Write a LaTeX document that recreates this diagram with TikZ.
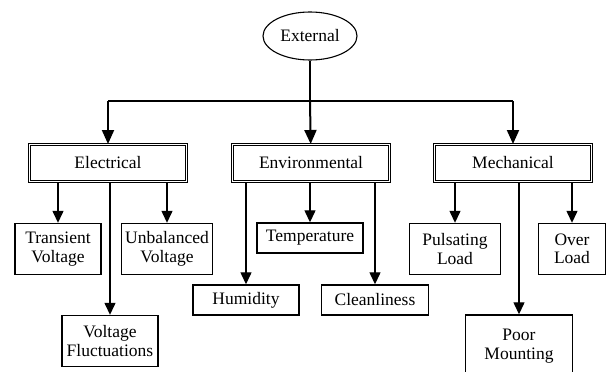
\documentclass[tikz,border=0pt]{standalone}
\usepackage{fontspec}
\setmainfont{Liberation Serif}
\usetikzlibrary{arrows.meta,positioning,shapes}

\begin{document}
\begin{tikzpicture}[x=1pt,y=-1pt,
            every node/.style={font=\fontsize{17.5}{18.5}\selectfont,align=center,inner sep=0pt},
            oval/.style={draw,ellipse,line width=1.1pt,minimum width=94,minimum height=48},
            group/.style={draw,double,double distance=1.6pt,line width=1pt,minimum width=157,minimum height=37},
            cause/.style={draw,rectangle,line width=1.4pt,minimum height=51},
            flat/.style={cause,minimum height=30},
            main/.style={draw,-{Triangle[length=14pt,width=12pt]},line width=2pt},
            link/.style={draw,-{Triangle[length=12pt,width=11pt]},line width=1.3pt}
          ]
          \clip (0,0) rectangle (613,372);
          %root
          \node[oval] (ext) at (310,36) {External};
          \coordinate (bar) at (310,101);

          %groups
          \node[group] (elec) at (108,163) {Electrical};
          \node[group] (envi) at (311,163) {Environmental};
          \node[group] (mech) at (513,163) {Mechanical};

          %electrical causes
          \node[cause,minimum width=86] (trans) at (58,249) {Transient\\Voltage};
          \node[cause,minimum width=91] (unbal) at (167,249) {Unbalanced\\Voltage};
          \node[cause,minimum width=96] (fluct) at (110,341) {Voltage\\Fluctuations};

          %environmental causes
          \node[flat,minimum width=106] (temp) at (310,238) {Temperature};
          \node[flat,minimum width=106] (humid) at (246,300) {Humidity};
          \node[flat,minimum width=107] (clean) at (375,300) {Cleanliness};

          %mechanical causes
          \node[cause,minimum width=91] (pulse) at (455,249) {Pulsating\\Load};
          \node[cause,minimum width=67] (over) at (572,249) {Over\\Load};
          \node[cause,minimum width=107,minimum height=62] (mount) at (519,346) {Poor\\Mounting};

          %top connectors
          \draw[main,-] (ext) -- (bar);
          \draw[main,-] (elec.north |- bar) -- (mech.north |- bar);
          \draw[main] (elec.north |- bar) -- (elec);
          \draw[main] (bar) -- (envi);
          \draw[main] (mech.north |- bar) -- (mech);

          %cause connectors
          \draw[link] (elec.south -| trans.north) -- (trans);
          \draw[link] (elec.south -| unbal.north) -- (unbal);
          \draw[link] (elec.south -| fluct.north) -- (fluct);
          \draw[link] (envi.south -| temp.north) -- (temp);
          \draw[link] (envi.south -| humid.north) -- (humid);
          \draw[link] (envi.south -| clean.north) -- (clean);
          \draw[link] (mech.south -| pulse.north) -- (pulse);
          \draw[link] (mech.south -| over.north) -- (over);
          \draw[link] (mech.south -| mount.north) -- (mount);
      \end{tikzpicture}
\end{document}
